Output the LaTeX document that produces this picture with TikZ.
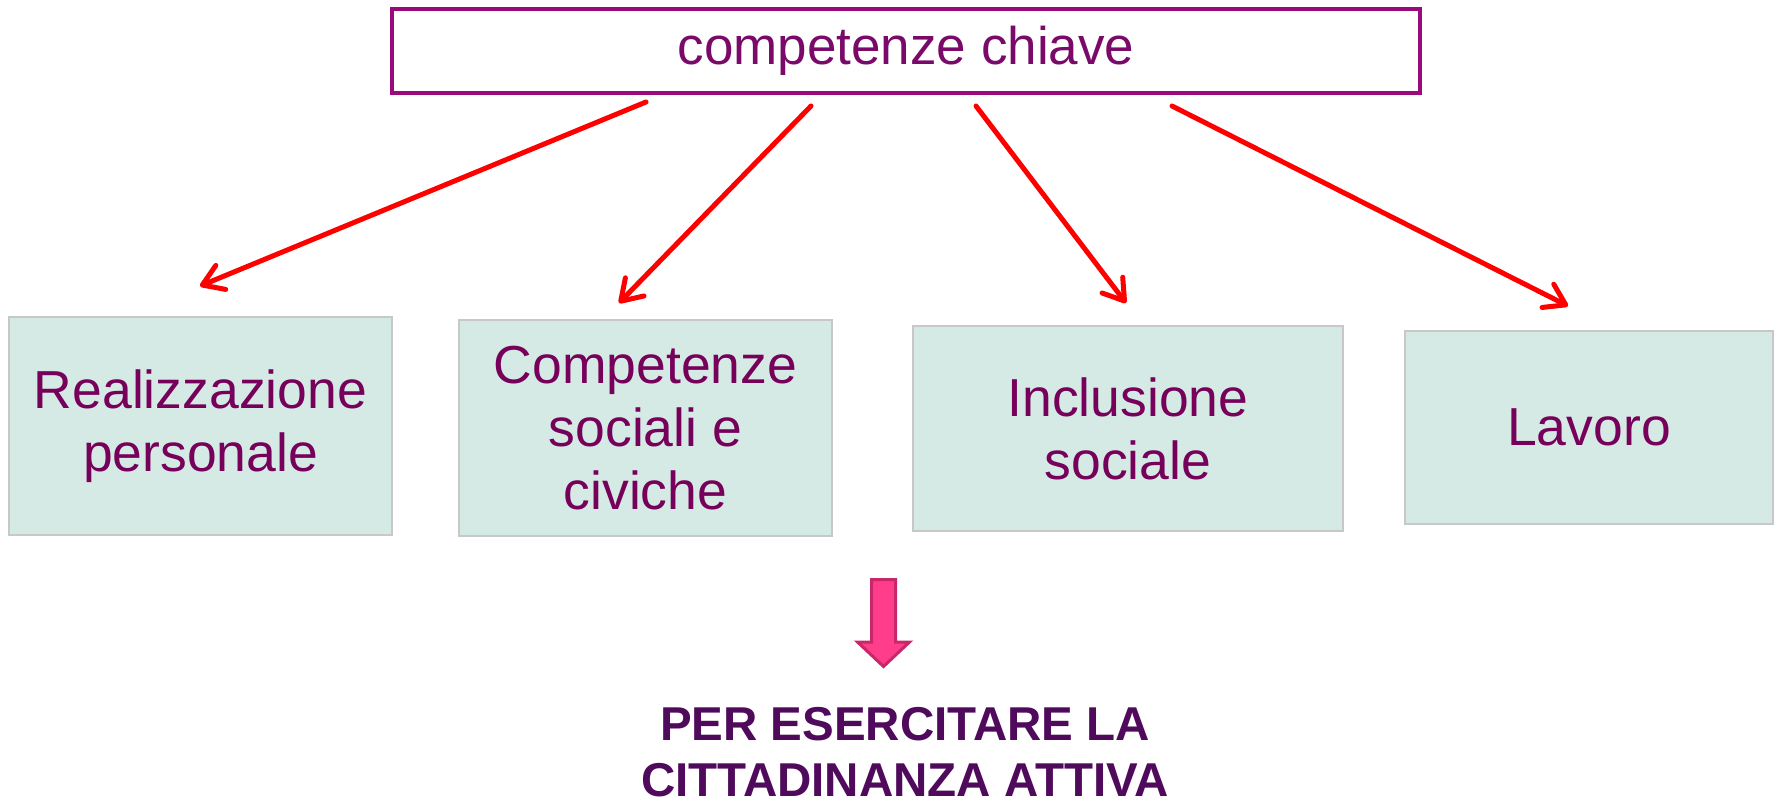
\documentclass[tikz,border=0pt]{standalone}
\usepackage{fontspec}
\setmainfont{Liberation Sans}
\usetikzlibrary{arrows.meta}
\definecolor{topborder}{RGB}{155,10,125}
\definecolor{toptext}{RGB}{122,10,106}
\definecolor{boxtext}{RGB}{118,0,90}
\definecolor{boxfill}{RGB}{213,234,229}
\definecolor{boxline}{RGB}{200,200,200}
\definecolor{pinkfill}{RGB}{255,61,138}
\definecolor{pinkline}{RGB}{200,40,106}
\definecolor{bottomtext}{RGB}{80,10,92}
\tikzset{
  topbox/.style={draw=topborder, line width=4.5pt, fill=white, inner sep=0pt,
    text=toptext, font=\fontsize{53}{63}\selectfont},
  catbox/.style={draw=boxline, line width=1.5pt, fill=boxfill, inner sep=0pt,
    text=boxtext, align=center, font=\fontsize{53.5}{63}\selectfont},
  redarrow/.style={draw=red, line width=5pt, line cap=round, line join=round,
    -{Straight Barb[length=20pt,width=26pt,line cap=round,line join=round]}},
  blockarrow/.style={draw=pinkline, fill=pinkfill, line width=3pt, line join=miter},
  bottomlabel/.style={text=bottomtext, align=center, inner sep=0pt,
    font=\fontsize{47.5}{56}\selectfont\bfseries}
}
\begin{document}
\begin{tikzpicture}[x=1pt,y=-1pt]
\useasboundingbox (0,0) rectangle (1780,805);
\node[topbox, minimum width=1028pt, minimum height=84pt] (top) at (906,51) {competenze chiave};
\node[catbox, minimum width=383pt, minimum height=218pt] (b1) at (200.5,426) {Realizzazione\\personale};
\node[catbox, minimum width=373pt, minimum height=216pt] (b2) at (645.5,428) {Competenze\\sociali e\\civiche};
\node[catbox, minimum width=430pt, minimum height=205pt] (b3) at (1128,428.5) {Inclusione\\sociale};
\node[catbox, minimum width=368pt, minimum height=193pt] (b4) at (1589,427.5) {Lavoro};
\coordinate (s1) at (646,102);
\coordinate (e1) at (200,286);
\coordinate (s2) at (811,106);
\coordinate (e2) at (619,303);
\coordinate (s3) at (976,106);
\coordinate (e3) at (1126,303);
\coordinate (s4) at (1172,106);
\coordinate (e4) at (1568,306);
\draw[redarrow] (s1) -- (e1);
\draw[redarrow] (s2) -- (e2);
\draw[redarrow] (s3) -- (e3);
\draw[redarrow] (s4) -- (e4);
\draw[blockarrow] (871.5,579.5) -- (895.5,579.5) -- (895.5,642) -- (909.5,642) -- (883.5,666.5) -- (857.5,642) -- (871.5,642) -- cycle;
\node[bottomlabel] (bottom) at (905,752) {PER ESERCITARE LA\\CITTADINANZA ATTIVA};
\end{tikzpicture}
\end{document}
